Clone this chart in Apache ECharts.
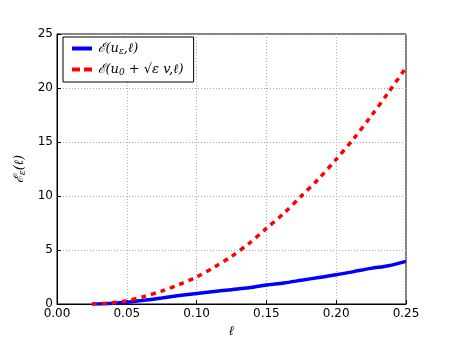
<!DOCTYPE html>
<html>
<head>
<meta charset="utf-8">
<script src="https://cdn.jsdelivr.net/npm/echarts@6/dist/echarts.min.js"></script>
<style>
  html, body { margin: 0; padding: 0; background: #fff; }
  #chart { width: 450px; height: 339px; }
</style>
</head>
<body>
<div id="chart"></div>
<script>
// sample positions along l
const ell = [0.025, 0.0375, 0.05, 0.0625, 0.075, 0.0875, 0.1, 0.1125, 0.125, 0.1375,
  0.15, 0.1625, 0.175, 0.1875, 0.2, 0.2125, 0.225, 0.2375, 0.25];
// E(u_eps, l) - blue solid
const energyEps = [0, 0.05, 0.17, 0.35, 0.55, 0.78, 0.98, 1.15, 1.33, 1.5,
  1.75, 1.95, 2.2, 2.45, 2.7, 3.0, 3.3, 3.55, 3.95];
// E(u0 + sqrt(eps) v, l) - red dashed
const energyApprox = [0, 0.08, 0.3, 0.7, 1.2, 1.8, 2.5, 3.4, 4.4, 5.6,
  7.0, 8.4, 10.0, 11.6, 13.4, 15.3, 17.4, 19.6, 21.9];
const xTicks = [0, 0.05, 0.1, 0.15, 0.2, 0.25];
const yTicks = [0, 5, 10, 15, 20, 25];

const font = 'DejaVu Sans';
const mathFont = 'DejaVu Serif';

function pairs(xs, ys) {
  return xs.map((x, i) => [x, ys[i]]);
}

let chart = echarts.init(document.getElementById('chart'));
chart.setOption({
  animation: false,
  textStyle: { fontFamily: font },
  grid: {
    left: 57, right: 44, top: 34, bottom: 35,
    outerBoundsMode: 'none',
    show: true, borderColor: '#000', borderWidth: 1
  },
  legend: {
    left: 63,
    top: 37,
    orient: 'vertical',
    backgroundColor: '#fff',
    borderColor: '#000',
    borderWidth: 1,
    borderRadius: 0,
    padding: [5, 10, 5, 9],
    itemGap: 7,
    itemWidth: 21,
    itemHeight: 4,
    textStyle: {
      fontFamily: mathFont,
      fontStyle: 'italic',
      fontSize: 13,
      color: '#000',
      rich: {
        m: { fontFamily: mathFont, fontStyle: 'italic', fontSize: 13 },
        s: { fontFamily: mathFont, fontStyle: 'italic', fontSize: 9, verticalAlign: 'bottom', padding: [6, 0, 0, 0] }
      }
    },
    formatter: function (name) {
      if (name === 'a') return '{m|ℰ(u}{s|ε}{m|,ℓ)}';
      return '{m|ℰ(u}{s|0}{m| + √ε v,ℓ)}';
    },
    data: [
      { name: 'a', icon: 'path://M0,0H20V4H0Z' },
      { name: 'b', icon: 'path://M0,0H8V4H0Z M12,0H20V4H12Z' }
    ]
  },
  xAxis: {
    type: 'value',
    min: 0,
    max: 0.25,
    interval: 0.05,
    name: 'ℓ',
    nameLocation: 'middle',
    nameGap: 20,
    nameTextStyle: { fontFamily: mathFont, fontStyle: 'italic', fontSize: 13, color: '#000' },
    axisLine: { lineStyle: { color: '#000' } },
    axisTick: { inside: true, length: 4, lineStyle: { color: '#000' } },
    axisLabel: { color: '#000', fontSize: 12, margin: 4, formatter: v => v.toFixed(2) },
    splitLine: { show: true, lineStyle: { color: '#aaa', type: [1, 2] } }
  },
  yAxis: {
    type: 'value',
    min: 0,
    max: 25,
    interval: 5,
    name: '{m|ℰ}{s|ε}{m|(ℓ)}',
    nameLocation: 'middle',
    nameGap: 22,
    nameTextStyle: {
      color: '#000',
      rich: {
        m: { fontFamily: mathFont, fontStyle: 'italic', fontSize: 13 },
        s: { fontFamily: mathFont, fontStyle: 'italic', fontSize: 9, padding: [6, 0, 0, 0] }
      }
    },
    axisLine: { show: true, lineStyle: { color: '#000' } },
    axisTick: { show: true, inside: true, length: 4, lineStyle: { color: '#000' } },
    axisLabel: { color: '#000', fontSize: 12, margin: 4 },
    splitLine: { show: true, lineStyle: { color: '#aaa', type: [1, 2] } }
  },
  series: [
    {
      name: 'a',
      type: 'line',
      data: pairs(ell, energyEps),
      symbol: 'none',
      smooth: 0.3,
      lineStyle: { color: '#0000ff', width: 3.5 },
      itemStyle: { color: '#0000ff' }
    },
    {
      name: 'b',
      type: 'line',
      data: pairs(ell, energyApprox),
      symbol: 'none',
      smooth: 0.3,
      lineStyle: { color: '#ff0000', width: 3.5, type: [5, 5] },
      itemStyle: { color: '#ff0000' }
    }
  ]
});
</script>
</body>
</html>
